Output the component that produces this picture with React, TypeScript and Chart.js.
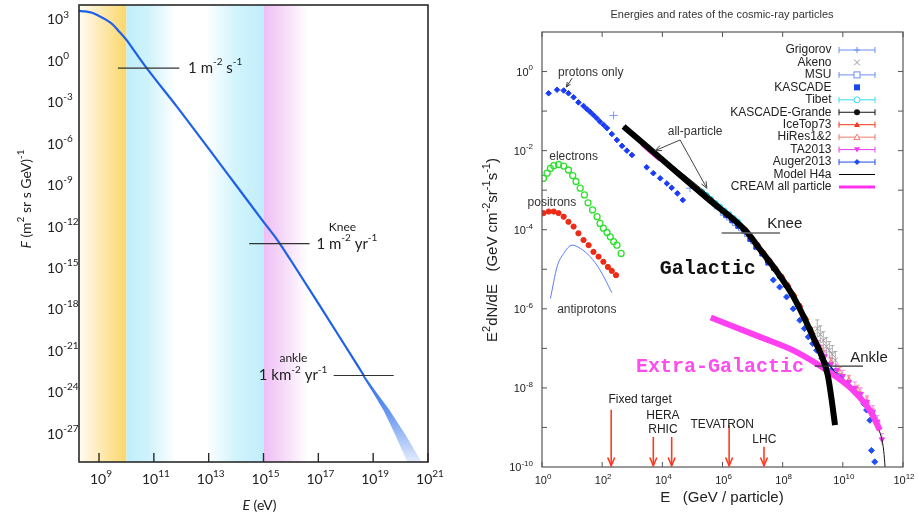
import React, { useEffect, useRef } from "react";
import { Chart, registerables } from "chart.js";

Chart.register(...registerables);

const p10 = (v: number) => Math.pow(10, v);
const pts = (xs: number[], ys: number[]) => xs.map((x, i) => ({ x: p10(x), y: p10(ys[i]) }));

// ================= LEFT PANEL DATA (log10 values) =================
const L_X_TICKS = [9, 11, 13, 15, 17, 19, 21];
const L_Y_TICKS = [3, 0, -3, -6, -9, -12, -15, -18, -21, -24, -27];
const L_SPECTRUM_LOGE = [8.27, 8.5, 8.75, 9.0, 9.25, 9.5, 9.75, 10.0, 10.3, 10.74, 11.84, 13.0, 14.0, 15.0, 15.5, 16.0, 17.0, 18.0, 18.66];
const L_SPECTRUM_LOGF = [3.58, 3.55, 3.45, 3.22, 2.95, 2.6, 2.05, 1.48, 0.65, -0.56, -3.35, -6.4, -9.05, -11.7, -13.0, -14.5, -17.6, -20.75, -22.83];
const L_BAND_UPPER_LOGE = [18.66, 19.1, 19.58, 20.2, 20.82];
const L_BAND_UPPER_LOGF = [-22.78, -24.0, -25.3, -27.2, -29.3];
const L_BAND_LOWER_LOGE = [18.62, 19.0, 19.39, 19.8, 20.29];
const L_BAND_LOWER_LOGF = [-22.9, -24.1, -25.41, -27.1, -29.3];

// ================= RIGHT PANEL DATA (log10 values) =================
const R_X_TICKS = [0, 2, 4, 6, 8, 10, 12];
const R_Y_TICKS = [0, -2, -4, -6, -8, -10];
const R_Y_MINOR = [-9, -8, -7, -6, -5, -4, -3, -2, -1, 0];

const GALACTIC_LOGE = [2.71, 4.0, 5.5, 6.8, 7.3, 7.8, 8.3, 8.7, 9.01, 9.3, 9.5, 9.63, 9.74];
const GALACTIC_LOGY = [-1.39, -2.23, -3.21, -4.05, -4.55, -5.05, -5.62, -6.2, -6.71, -7.2, -7.68, -8.31, -8.94];
const H4A_LOGE = [2.71, 6.8, 7.3, 7.8, 8.3, 8.7, 9.01, 9.35, 9.8, 10.3, 10.7, 11.0, 11.2, 11.36, 11.45];
const H4A_LOGY = [-1.39, -4.05, -4.55, -5.05, -5.62, -6.2, -6.71, -7.2, -7.65, -8.0, -8.3, -8.65, -9.05, -9.6, -10.5];
const EXTRAGAL_LOGE = [5.61, 7.24, 8.35, 9.46, 10.34, 10.9, 11.23];
const EXTRAGAL_LOGY = [-6.22, -6.71, -7.05, -7.55, -8.06, -8.57, -9.07];

const PROTON_LOGE = [0.22, 0.5, 0.72, 0.88, 1.05, 1.21, 1.38, 1.49, 1.6, 1.71, 1.82, 1.93, 2.05, 2.16, 2.32, 2.49, 2.66, 2.82, 2.99, 3.48, 3.7, 3.93, 4.15, 4.31, 4.5, 4.68];
const PROTON_LOGY = [-0.55, -0.46, -0.48, -0.55, -0.65, -0.78, -0.87, -0.95, -1.02, -1.1, -1.18, -1.27, -1.35, -1.43, -1.58, -1.73, -1.88, -2.0, -2.11, -2.42, -2.57, -2.7, -2.83, -2.94, -3.08, -3.25];
const ELECTRON_LOGE = [0.05, 0.17, 0.28, 0.39, 0.55, 0.72, 0.88, 1.02, 1.13, 1.27, 1.41, 1.53, 1.68, 1.83, 1.93, 2.04, 2.16, 2.27, 2.38, 2.49, 2.63];
const ELECTRON_LOGY = [-2.7, -2.57, -2.45, -2.38, -2.35, -2.39, -2.49, -2.63, -2.78, -2.95, -3.12, -3.32, -3.5, -3.67, -3.84, -3.96, -4.07, -4.18, -4.3, -4.39, -4.6];
const POSITRON_LOGE = [0.05, 0.22, 0.39, 0.55, 0.72, 0.88, 1.05, 1.21, 1.38, 1.55, 1.71, 1.88, 2.04, 2.19, 2.32, 2.46];
const POSITRON_LOGY = [-3.58, -3.54, -3.54, -3.58, -3.67, -3.8, -3.92, -4.09, -4.26, -4.39, -4.56, -4.68, -4.81, -4.94, -5.04, -5.15];
const ANTIPROTON_LOGE = [0.28, 0.5, 0.72, 1.0, 1.27, 1.6, 1.93, 2.32];
const ANTIPROTON_LOGY = [-5.74, -4.94, -4.6, -4.39, -4.47, -4.68, -5.02, -5.59];

const GRIGOROV_LOGE = [2.38, 4.92];
const GRIGOROV_LOGY = [-1.11, -2.95];
const CREAM_LOGE = [3.3, 3.5, 3.7, 3.9];
const CREAM_LOGY = [-1.86, -1.99, -2.12, -2.25];
const TIBET_LOGE = [5.3, 5.45, 5.6, 5.75, 5.9, 6.05, 6.2, 6.35, 6.5];
const TIBET_LOGY = [-3.05, -3.14, -3.24, -3.34, -3.43, -3.53, -3.62, -3.72, -3.82];
const MSU_LOGE = [5.8, 6.0, 6.2, 6.4, 6.6, 6.8, 7.0];
const MSU_LOGY = [-3.42, -3.58, -3.7, -3.84, -3.97, -4.12, -4.3];
const KASCADE_LOGE = [6.1, 6.3, 6.5, 6.7, 6.9, 7.1, 7.3, 7.5];
const KASCADE_LOGY = [-3.65, -3.78, -3.92, -4.05, -4.25, -4.45, -4.62, -4.85];
const KGRANDE_LOGE = [7.3, 7.5, 7.7, 7.9, 8.1, 8.3, 8.5, 8.7, 8.9];
const KGRANDE_LOGY = [-4.55, -4.78, -4.98, -5.18, -5.4, -5.62, -5.9, -6.2, -6.5];
const ICETOP_LOGE = [6.6, 6.8, 7.0, 7.2, 7.4, 7.6, 7.8, 8.0, 8.2, 8.4, 8.6, 8.8];
const ICETOP_LOGY = [-3.88, -4.0, -4.2, -4.38, -4.58, -4.78, -4.98, -5.18, -5.4, -5.65, -5.92, -6.25];
const AUGER_LOGE = [7.69, 7.9, 8.13, 8.35, 8.57, 8.72, 8.85, 9.0, 9.13, 9.3, 9.46, 9.62, 9.79, 9.9, 10.0, 10.12, 10.23, 10.32, 10.4, 10.48, 10.56, 10.63, 10.7, 10.79, 10.9, 10.95, 11.06];
const AUGER_LOGY = [-5.27, -5.45, -5.7, -6.0, -6.29, -6.5, -6.71, -6.88, -7.05, -7.25, -7.43, -7.55, -7.68, -7.75, -7.82, -7.9, -7.97, -8.04, -8.1, -8.16, -8.23, -8.3, -8.4, -8.56, -8.82, -9.58, -9.87];
const TA_LOGE = [9.2, 9.4, 9.6, 9.8, 10.0, 10.2, 10.4, 10.6, 10.8, 11.0, 11.15, 11.3];
const TA_LOGY = [-6.95, -7.2, -7.4, -7.55, -7.7, -7.85, -8.0, -8.15, -8.35, -8.6, -8.85, -9.3];
const HIRES_LOGE = [9.0, 9.3, 9.6, 9.9, 10.2, 10.5, 10.8, 11.0, 11.2];
const HIRES_LOGY = [-6.6, -7.05, -7.35, -7.6, -7.8, -8.05, -8.35, -8.65, -9.0];
const AKENO_LOGE = [9.15, 9.25, 9.35, 9.45, 9.55, 9.65, 9.75];
const AKENO_LOGY = [-6.5, -6.65, -6.8, -6.95, -7.05, -7.15, -7.3];

const ACCEL_LABELS = ["Fixed target", "HERA", "RHIC", "TEVATRON", "LHC"];
const ACCEL_ARROW_LOGE = [2.3, 3.7, 4.31, 6.22, 7.38];
const ACCEL_ARROW_TOP = [-8.55, -9.24, -9.24, -8.94, -9.49];

const LEGEND_LABELS = ["Grigorov", "Akeno", "MSU", "KASCADE", "Tibet", "KASCADE-Grande", "IceTop73", "HiRes1&2", "TA2013", "Auger2013", "Model H4a", "CREAM all particle"];

// ================= styles =================
const LEGEND_STYLE: { color: string; marker: string; line: string }[] = [
  { color: "#6d8ff5", marker: "plus", line: "err" },
  { color: "#9a9a9a", marker: "x", line: "none" },
  { color: "#6e8ef3", marker: "sqOpen", line: "err" },
  { color: "#1646f0", marker: "sq", line: "none" },
  { color: "#33dcf2", marker: "circOpen", line: "err" },
  { color: "#111111", marker: "circ", line: "err" },
  { color: "#f2361b", marker: "tri", line: "err" },
  { color: "#f47a6a", marker: "triOpen", line: "err" },
  { color: "#f03cf0", marker: "triDown", line: "err" },
  { color: "#1f4ef5", marker: "diamond", line: "err" },
  { color: "#000000", marker: "none", line: "thin" },
  { color: "#ff33ee", marker: "none", line: "thick" },
];

type Seg = { t: string; sup?: boolean; italic?: boolean };
type RichOpts = { size: number; family: string; color: string; align?: "left" | "center" | "right"; bold?: boolean; supScale?: number; supRise?: number };

function drawRich(ctx: CanvasRenderingContext2D, segs: Seg[], x: number, y: number, o: RichOpts) {
  const supSize = Math.round(o.size * (o.supScale ?? 0.7));
  const font = (s: Seg) => `${s.italic ? "italic " : ""}${o.bold ? "bold " : ""}${s.sup ? supSize : o.size}px ${o.family}`;
  let total = 0;
  const widths = segs.map((s) => {
    ctx.font = font(s);
    const w = ctx.measureText(s.t).width;
    total += w;
    return w;
  });
  let cx = o.align === "center" ? x - total / 2 : o.align === "right" ? x - total : x;
  ctx.fillStyle = o.color;
  ctx.textBaseline = "middle";
  ctx.textAlign = "left";
  segs.forEach((s, i) => {
    ctx.font = font(s);
    ctx.fillText(s.t, cx, s.sup ? y - o.size * (o.supRise ?? 0.4) : y);
    cx += widths[i];
  });
}

function powLabel(e: number): Seg[] {
  return [{ t: "10" }, { t: String(e), sup: true }];
}

function arrow(ctx: CanvasRenderingContext2D, x0: number, y0: number, x1: number, y1: number, color: string, width: number, head: number) {
  ctx.save();
  ctx.strokeStyle = color;
  ctx.lineWidth = width;
  ctx.beginPath();
  ctx.moveTo(x0, y0);
  ctx.lineTo(x1, y1);
  ctx.stroke();
  const ang = Math.atan2(y1 - y0, x1 - x0);
  const a1 = ang + Math.PI - 0.4, a2 = ang + Math.PI + 0.4;
  ctx.beginPath();
  ctx.moveTo(x1 + head * Math.cos(a1), y1 + head * Math.sin(a1));
  ctx.lineTo(x1, y1);
  ctx.lineTo(x1 + head * Math.cos(a2), y1 + head * Math.sin(a2));
  ctx.stroke();
  ctx.restore();
}

function marker(ctx: CanvasRenderingContext2D, kind: string, x: number, y: number, color: string) {
  ctx.save();
  ctx.strokeStyle = color;
  ctx.fillStyle = color;
  ctx.lineWidth = 1;
  const r = 3;
  ctx.beginPath();
  switch (kind) {
    case "plus":
      ctx.moveTo(x - r, y); ctx.lineTo(x + r, y); ctx.moveTo(x, y - r); ctx.lineTo(x, y + r); ctx.stroke();
      break;
    case "x":
      ctx.moveTo(x - r, y - r); ctx.lineTo(x + r, y + r); ctx.moveTo(x + r, y - r); ctx.lineTo(x - r, y + r); ctx.stroke();
      break;
    case "sqOpen":
      ctx.fillStyle = "#fff"; ctx.fillRect(x - r, y - r, 2 * r, 2 * r); ctx.strokeRect(x - r, y - r, 2 * r, 2 * r);
      break;
    case "sq":
      ctx.fillRect(x - r, y - r, 2 * r, 2 * r);
      break;
    case "circOpen":
      ctx.arc(x, y, r, 0, Math.PI * 2); ctx.fillStyle = "#fff"; ctx.fill(); ctx.stroke();
      break;
    case "circ":
      ctx.arc(x, y, r, 0, Math.PI * 2); ctx.fill();
      break;
    case "tri":
      ctx.moveTo(x, y - r); ctx.lineTo(x + r, y + r * 0.8); ctx.lineTo(x - r, y + r * 0.8); ctx.closePath(); ctx.fill();
      break;
    case "triOpen":
      ctx.moveTo(x, y - r); ctx.lineTo(x + r, y + r * 0.8); ctx.lineTo(x - r, y + r * 0.8); ctx.closePath(); ctx.fillStyle = "#fff"; ctx.fill(); ctx.stroke();
      break;
    case "triDown":
      ctx.moveTo(x, y + r); ctx.lineTo(x + r, y - r * 0.8); ctx.lineTo(x - r, y - r * 0.8); ctx.closePath(); ctx.fill();
      break;
    case "diamond":
      ctx.moveTo(x, y - r); ctx.lineTo(x + r, y); ctx.lineTo(x, y + r); ctx.lineTo(x - r, y); ctx.closePath(); ctx.fill();
      break;
  }
  ctx.restore();
}

// ================= LEFT CHART =================
const LFONT = "Lato, 'Open Sans', sans-serif";

const leftDeco = {
  id: "leftDeco",
  beforeDatasetsDraw(chart: any) {
    const { ctx, chartArea: a, scales } = chart;
    const X = (l: number) => scales.x.getPixelForValue(p10(l));
    const band = (l0: number, l1: number, stops: [number, string][]) => {
      const px0 = X(l0), px1 = X(l1);
      const x0 = Math.max(a.left, px0), x1 = Math.min(a.right, px1);
      const g = ctx.createLinearGradient(px0, 0, px1, 0);
      stops.forEach(([o, c]) => g.addColorStop(o, c));
      ctx.fillStyle = g;
      ctx.fillRect(x0, a.top, x1 - x0, a.bottom - a.top);
    };
    ctx.save();
    band(8.27, 10, [[0, "#fffcf2"], [0.5, "#fde8ad"], [1, "#fbd76b"]]);
    band(10, 11.8, [[0, "#c0eefb"], [0.45, "#cff3fc"], [1, "#ffffff"]]);
    band(12.9, 15, [[0, "#ffffff"], [0.5, "#d3f4fc"], [1, "#c0eefb"]]);
    band(15, 16.6, [[0, "#efbdf5"], [0.4, "#f5d6f8"], [1, "#ffffff"]]);
    ctx.restore();
  },
  afterDraw(chart: any) {
    const { ctx, chartArea: a, scales } = chart;
    const X = (l: number) => scales.x.getPixelForValue(p10(l));
    const Y = (l: number) => scales.y.getPixelForValue(p10(l));
    ctx.save();
    // frame
    ctx.strokeStyle = "#2a2a2a";
    ctx.lineWidth = 1.6;
    ctx.strokeRect(a.left, a.top, a.right - a.left, a.bottom - a.top);
    // x ticks (inward)
    ctx.lineWidth = 1.4;
    L_X_TICKS.forEach((e) => {
      const x = X(e);
      ctx.beginPath();
      ctx.moveTo(x, a.bottom);
      ctx.lineTo(x, a.bottom - 9);
      ctx.stroke();
      drawRich(ctx, powLabel(e), x + 2, a.bottom + 17, { size: 14, family: LFONT, color: "#222", align: "center", supScale: 0.68 });
    });
    L_Y_TICKS.forEach((e) => {
      drawRich(ctx, powLabel(e), 47, Y(e) + 1, { size: 14, family: LFONT, color: "#222", align: "left", supScale: 0.68 });
    });
    // axis titles
    drawRich(ctx, [{ t: "E", italic: true }, { t: " (eV)" }], (a.left + a.right) / 2 + 6, a.bottom + 43, { size: 14, family: LFONT, color: "#222", align: "center" });
    ctx.save();
    ctx.translate(26, 199);
    ctx.rotate(-Math.PI / 2);
    drawRich(ctx, [{ t: "F", italic: true }, { t: " (m" }, { t: "2", sup: true }, { t: " sr s GeV)" }, { t: "-1", sup: true }], 0, 0, { size: 14, family: LFONT, color: "#222", align: "center" });
    ctx.restore();
    // annotations
    ctx.strokeStyle = "#333";
    ctx.lineWidth = 1.2;
    const hline = (y: number, x0: number, x1: number) => {
      ctx.beginPath();
      ctx.moveTo(X(x0), Y(y));
      ctx.lineTo(X(x1), Y(y));
      ctx.stroke();
    };
    hline(-0.56, 9.69, 11.93);
    hline(-13.28, 14.48, 16.68);
    hline(-22.83, 17.56, 19.75);
    const ann = { size: 15, family: LFONT, color: "#222", supScale: 0.66 };
    drawRich(ctx, [{ t: "1 m" }, { t: "-2", sup: true }, { t: " s" }, { t: "-1", sup: true }], X(12.25), Y(-0.56), { ...ann, align: "left" });
    drawRich(ctx, [{ t: "1 m" }, { t: "-2", sup: true }, { t: " yr" }, { t: "-1", sup: true }], X(16.93), Y(-13.28), { ...ann, align: "left" });
    drawRich(ctx, [{ t: "1 km" }, { t: "-2", sup: true }, { t: " yr" }, { t: "-1", sup: true }], X(17.33), Y(-22.83), { ...ann, align: "right" });
    drawRich(ctx, [{ t: "Knee" }], X(17.88), Y(-12.1), { size: 12, family: LFONT, color: "#222", align: "center" });
    drawRich(ctx, [{ t: "ankle" }], X(16.09), Y(-21.55), { size: 12, family: LFONT, color: "#222", align: "center" });
    ctx.restore();
  },
};

function LeftChart() {
  const ref = useRef<HTMLCanvasElement>(null);
  useEffect(() => {
    const chart = new Chart(ref.current as HTMLCanvasElement, {
      type: "scatter",
      data: {
        datasets: [
          {
            data: pts(L_SPECTRUM_LOGE, L_SPECTRUM_LOGF),
            showLine: true,
            borderColor: "#1d60ea",
            borderWidth: 2.2,
            pointRadius: 0,
            cubicInterpolationMode: "monotone",
          } as any,
          {
            data: [...pts(L_BAND_UPPER_LOGE, L_BAND_UPPER_LOGF), ...pts(L_BAND_LOWER_LOGE, L_BAND_LOWER_LOGF).reverse()],
            showLine: true,
            fill: "shape",
            borderWidth: 0,
            borderColor: "rgba(0,0,0,0)",
            pointRadius: 0,
            backgroundColor: (c: any) => {
              const ch = c.chart;
              const area = ch.chartArea;
              if (!area) return "rgba(90,140,240,0.6)";
              const y0 = ch.scales.y.getPixelForValue(p10(-22.8));
              const g = ch.ctx.createLinearGradient(0, y0, 0, area.bottom);
              g.addColorStop(0, "#2466ec");
              g.addColorStop(0.45, "#6b9af2");
              g.addColorStop(1, "#e3ecfd");
              return g;
            },
          } as any,
        ],
      },
      options: {
        animation: false,
        responsive: false,
        events: [],
        layout: { padding: { top: 5, right: 22, left: 0, bottom: 0 } },
        plugins: { legend: { display: false }, tooltip: { enabled: false } },
        scales: {
          x: {
            type: "logarithmic",
            min: p10(8.27),
            max: p10(21),
            grid: { display: false },
            border: { display: false },
            ticks: { display: false },
            afterFit: (s: any) => { s.height = 57; },
          },
          y: {
            type: "logarithmic",
            min: p10(-29.08),
            max: p10(4.01),
            grid: { display: false },
            border: { display: false },
            ticks: { display: false },
            afterFit: (s: any) => { s.width = 79; },
          },
        },
      } as any,
      plugins: [leftDeco],
    });
    return () => chart.destroy();
  }, []);
  return <canvas ref={ref} width={450} height={519} style={{ position: "absolute", left: 0, top: 0, width: 450, height: 519 }} />;
}

// ================= RIGHT CHART =================
const RFONT = "'Liberation Sans', Arial, sans-serif";
const MONO = "'Liberation Mono', 'Courier New', monospace";

const rightDeco = {
  id: "rightDeco",
  beforeDatasetsDraw(chart: any) {
    const { ctx, scales } = chart;
    const X = (l: number) => scales.x.getPixelForValue(p10(l));
    const Y = (l: number) => scales.y.getPixelForValue(p10(l));
    const errs = (xs: number[], ys: number[], d: number, color: string) => {
      ctx.save();
      ctx.strokeStyle = color;
      ctx.lineWidth = 1;
      ctx.beginPath();
      xs.forEach((e, i) => {
        const x = X(e);
        ctx.moveTo(x, Y(ys[i] + d));
        ctx.lineTo(x, Y(ys[i] - d));
        ctx.moveTo(x - 2, Y(ys[i] + d));
        ctx.lineTo(x + 2, Y(ys[i] + d));
      });
      ctx.stroke();
      ctx.restore();
    };
    errs(AKENO_LOGE, AKENO_LOGY, 0.22, "rgba(150,150,150,0.8)");
    errs(TA_LOGE, TA_LOGY, 0.15, "rgba(240,60,240,0.6)");
    errs(HIRES_LOGE, HIRES_LOGY, 0.12, "rgba(244,122,106,0.7)");
  },
  afterDraw(chart: any) {
    const { ctx, chartArea: a, scales } = chart;
    const X = (l: number) => scales.x.getPixelForValue(p10(l));
    const Y = (l: number) => scales.y.getPixelForValue(p10(l));
    ctx.save();
    // frame
    ctx.strokeStyle = "#555";
    ctx.lineWidth = 1.2;
    ctx.strokeRect(a.left, a.top, a.right - a.left, a.bottom - a.top);
    // ticks
    ctx.lineWidth = 1;
    R_X_TICKS.forEach((e) => {
      const x = X(e);
      ctx.beginPath();
      ctx.moveTo(x, a.bottom); ctx.lineTo(x, a.bottom - 5);
      ctx.moveTo(x, a.top); ctx.lineTo(x, a.top + 5);
      ctx.stroke();
      drawRich(ctx, powLabel(e), x + 1, a.bottom + 14, { size: 11, family: RFONT, color: "#222", align: "center", supScale: 0.75 });
    });
    R_Y_MINOR.forEach((e) => {
      const y = Y(e);
      ctx.beginPath();
      ctx.moveTo(a.left, y); ctx.lineTo(a.left + 5, y);
      ctx.moveTo(a.right, y); ctx.lineTo(a.right - 5, y);
      ctx.stroke();
    });
    R_Y_TICKS.forEach((e) => {
      drawRich(ctx, powLabel(e), a.left - 9, Y(e) + 1, { size: 11, family: RFONT, color: "#222", align: "right", supScale: 0.75 });
    });
    // title & axis titles
    drawRich(ctx, [{ t: "Energies and rates of the cosmic-ray particles" }], 262, 14.5, { size: 11, family: RFONT, color: "#333", align: "center" });
    drawRich(ctx, [{ t: "E   (GeV / particle)" }], 262, 498, { size: 15, family: RFONT, color: "#222", align: "center" });
    ctx.save();
    ctx.translate(33, 250);
    ctx.rotate(-Math.PI / 2);
    drawRich(ctx, [{ t: "E" }, { t: "2", sup: true }, { t: "dN/dE   (GeV cm" }, { t: "-2", sup: true }, { t: "sr" }, { t: "-1", sup: true }, { t: "s" }, { t: "-1", sup: true }, { t: ")" }], 0, 0, { size: 15, family: RFONT, color: "#222", align: "center" });
    ctx.restore();

    // legend
    LEGEND_LABELS.forEach((lab, i) => {
      const st = LEGEND_STYLE[i];
      const y = 50 + i * 12.45;
      drawRich(ctx, [{ t: lab }], 371.5, y, { size: 12, family: RFONT, color: "#222", align: "right" });
      const x0 = 379, x1 = 415, xc = 397;
      ctx.save();
      ctx.strokeStyle = st.color;
      if (st.line === "err") {
        ctx.lineWidth = 1;
        ctx.beginPath();
        ctx.moveTo(x0, y); ctx.lineTo(x1, y);
        ctx.moveTo(x0, y - 3); ctx.lineTo(x0, y + 3);
        ctx.moveTo(x1, y - 3); ctx.lineTo(x1, y + 3);
        ctx.stroke();
      } else if (st.line === "thin" || st.line === "thick") {
        ctx.lineWidth = st.line === "thin" ? 1.2 : 3;
        ctx.beginPath();
        ctx.moveTo(x0, y); ctx.lineTo(x1, y);
        ctx.stroke();
      }
      ctx.restore();
      if (st.marker !== "none") marker(ctx, st.marker, xc, y, st.color);
    });

    // text annotations
    const txt = (s: string, le: number, ly: number) => drawRich(ctx, [{ t: s }], X(le), Y(ly), { size: 12, family: RFONT, color: "#333", align: "center" });
    txt("protons only", 1.62, -0.03);
    txt("electrons", 1.05, -2.15);
    txt("positrons", 0.33, -3.32);
    txt("antiprotons", 1.49, -6.03);
    txt("all-particle", 5.09, -1.53);
    arrow(ctx, X(1.0), Y(-0.17), X(0.81), Y(-0.39), "#333", 1, 5);
    arrow(ctx, X(4.59), Y(-1.73), X(3.76), Y(-2.0), "#444", 1, 7);
    arrow(ctx, X(4.59), Y(-1.73), X(5.48), Y(-2.95), "#444", 1, 7);

    // knee / ankle
    ctx.strokeStyle = "#666";
    ctx.lineWidth = 1.5;
    ctx.beginPath();
    ctx.moveTo(X(5.97), Y(-4.08)); ctx.lineTo(X(7.91), Y(-4.08));
    ctx.stroke();
    ctx.strokeStyle = "#333";
    ctx.lineWidth = 1.2;
    ctx.beginPath();
    ctx.moveTo(X(9.07), Y(-7.45)); ctx.lineTo(X(10.67), Y(-7.45));
    ctx.stroke();
    drawRich(ctx, [{ t: "Knee" }], X(8.07), Y(-3.86), { size: 15, family: RFONT, color: "#222", align: "center" });
    drawRich(ctx, [{ t: "Ankle" }], X(10.87), Y(-7.24), { size: 15, family: RFONT, color: "#222", align: "center" });
    drawRich(ctx, [{ t: "Galactic" }], X(5.51), Y(-4.98), { size: 20, family: MONO, color: "#111", align: "center", bold: true });
    drawRich(ctx, [{ t: "Extra-Galactic" }], X(5.92), Y(-7.48), { size: 20, family: MONO, color: "#ff4cee", align: "center", bold: true });

    // accelerators
    ACCEL_ARROW_LOGE.forEach((e, i) => {
      arrow(ctx, X(e), Y(ACCEL_ARROW_TOP[i]), X(e), Y(-9.97), "#ff3a22", 1.6, 9);
    });
    const acc = (s: string, le: number, ly: number) => drawRich(ctx, [{ t: s }], X(le), Y(ly), { size: 12, family: RFONT, color: "#222", align: "center" });
    acc(ACCEL_LABELS[0], 3.26, -8.31);
    acc(ACCEL_LABELS[1], 4.02, -8.71);
    acc(ACCEL_LABELS[2], 4.02, -9.05);
    acc(ACCEL_LABELS[3], 5.99, -8.93);
    acc(ACCEL_LABELS[4], 7.39, -9.32);
    ctx.restore();
  },
};

function scat(xs: number[], ys: number[], style: string, color: string, r: number, extra: any = {}) {
  return {
    data: pts(xs, ys),
    showLine: false,
    pointStyle: style,
    pointRadius: r,
    pointBackgroundColor: color,
    pointBorderColor: color,
    pointBorderWidth: 1,
    ...extra,
  };
}

function RightChart() {
  const ref = useRef<HTMLCanvasElement>(null);
  useEffect(() => {
    const chart = new Chart(ref.current as HTMLCanvasElement, {
      type: "scatter",
      data: {
        datasets: [
          { data: pts(GALACTIC_LOGE, GALACTIC_LOGY), showLine: true, borderColor: "#000", borderWidth: 6, pointRadius: 0, cubicInterpolationMode: "monotone" } as any,
          { data: pts(EXTRAGAL_LOGE, EXTRAGAL_LOGY), showLine: true, borderColor: "#ff40f0", borderWidth: 6, pointRadius: 0, cubicInterpolationMode: "monotone" } as any,
          { data: pts(H4A_LOGE, H4A_LOGY), showLine: true, borderColor: "#111", borderWidth: 1, pointRadius: 0, cubicInterpolationMode: "monotone" } as any,
          scat(AUGER_LOGE, AUGER_LOGY, "rectRot", "#1f4ef5", 3),
          scat(TA_LOGE, TA_LOGY, "triangle", "#f03cf0", 3, { rotation: 180 }),
          scat(HIRES_LOGE, HIRES_LOGY, "triangle", "#f47a6a", 3, { pointBackgroundColor: "rgba(255,255,255,0)" }),
          scat(AKENO_LOGE, AKENO_LOGY, "crossRot", "#9a9a9a", 3.5),
          scat(ICETOP_LOGE, ICETOP_LOGY, "triangle", "#f2361b", 2.5),
          scat(KGRANDE_LOGE, KGRANDE_LOGY, "circle", "#111", 2.5),
          scat(KASCADE_LOGE, KASCADE_LOGY, "rect", "#1646f0", 2.5),
          scat(MSU_LOGE, MSU_LOGY, "rect", "#6e8ef3", 3, { pointBackgroundColor: "rgba(255,255,255,0)" }),
          scat(TIBET_LOGE, TIBET_LOGY, "circle", "#33dcf2", 3, { pointBackgroundColor: "rgba(255,255,255,0)", pointBorderWidth: 1.5 }),
          { data: pts(CREAM_LOGE, CREAM_LOGY), showLine: true, borderColor: "#ff33ee", borderWidth: 2, pointRadius: 0 } as any,
          scat(GRIGOROV_LOGE, GRIGOROV_LOGY, "cross", "#7a98f2", 4),
          { data: pts(ANTIPROTON_LOGE, ANTIPROTON_LOGY), showLine: true, borderColor: "#5a7df0", borderWidth: 1, pointRadius: 0, cubicInterpolationMode: "monotone" } as any,
          scat(POSITRON_LOGE, POSITRON_LOGY, "circle", "#ee2a14", 2.6),
          scat(ELECTRON_LOGE, ELECTRON_LOGY, "circle", "#2ee02e", 3, { pointBackgroundColor: "rgba(255,255,255,0)", pointBorderWidth: 1.3 }),
          scat(PROTON_LOGE, PROTON_LOGY, "rectRot", "#1a3cf5", 2.8),
        ],
      },
      options: {
        animation: false,
        responsive: false,
        events: [],
        layout: { padding: { top: 32, right: 15, left: 0, bottom: 0 } },
        plugins: { legend: { display: false }, tooltip: { enabled: false } },
        scales: {
          x: {
            type: "logarithmic",
            min: 1,
            max: p10(12),
            grid: { display: false },
            border: { display: false },
            ticks: { display: false },
            afterFit: (s: any) => { s.height = 52; },
          },
          y: {
            type: "logarithmic",
            min: p10(-10),
            max: p10(1),
            grid: { display: false },
            border: { display: false },
            ticks: { display: false },
            afterFit: (s: any) => { s.width = 82; },
          },
        },
      } as any,
      plugins: [rightDeco],
    });
    return () => chart.destroy();
  }, []);
  return <canvas ref={ref} width={458} height={519} style={{ position: "absolute", left: 460, top: 0, width: 458, height: 519 }} />;
}

export default function App() {
  return (
    <div style={{ position: "absolute", left: 0, top: 0, width: 918, height: 519, background: "#fff", overflow: "hidden" }}>
      <LeftChart />
      <RightChart />
    </div>
  );
}
